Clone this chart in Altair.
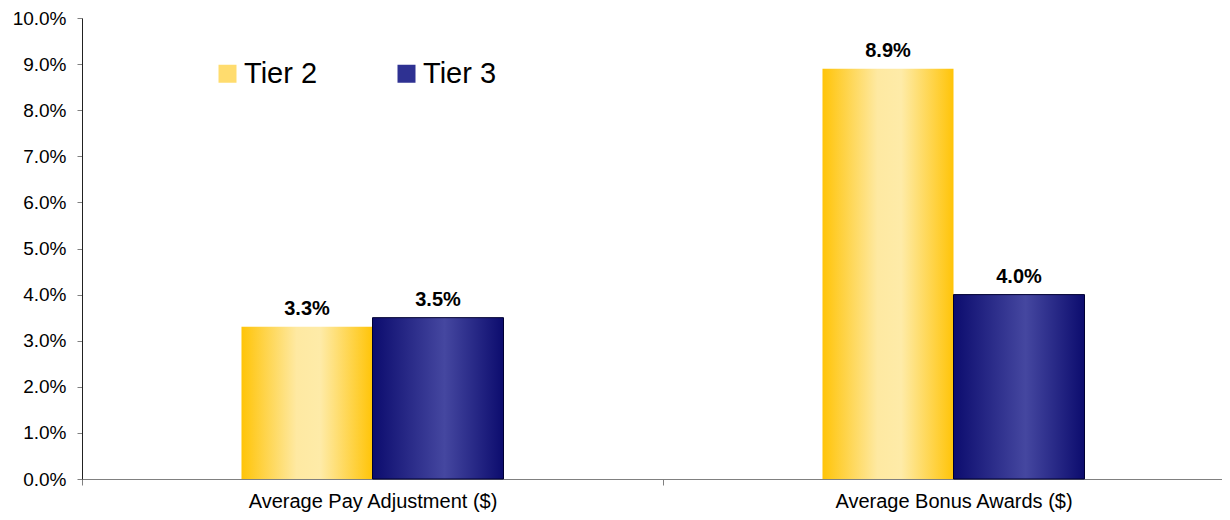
import altair as alt
import pandas as pd

categories = ["Average Pay Adjustment ($)", "Average Bonus Awards ($)"]
tiers = ["Tier 2", "Tier 3"]
tier2_values = [0.033, 0.089]
tier3_values = [0.035, 0.040]
y_ticks = [i / 100 for i in range(0, 11)]

rows = []
for c, v2, v3 in zip(categories, tier2_values, tier3_values):
    rows.append({"category": c, "tier": "Tier 2", "value": v2})
    rows.append({"category": c, "tier": "Tier 3", "value": v3})
df = pd.DataFrame(rows)

FONT = "Liberation Sans"

gold = alt.LinearGradient(
    gradient="linear", x1=0, x2=1, y1=0, y2=0,
    stops=[
        alt.GradientStop(color="#FFC408", offset=0),
        alt.GradientStop(color="#FEE9A2", offset=0.42),
        alt.GradientStop(color="#FEEBA8", offset=0.6),
        alt.GradientStop(color="#FFC408", offset=1),
    ],
)
navy = alt.LinearGradient(
    gradient="linear", x1=0, x2=1, y1=0, y2=0,
    stops=[
        alt.GradientStop(color="#0C0C6E", offset=0),
        alt.GradientStop(color="#4547A0", offset=0.55),
        alt.GradientStop(color="#0C0C6E", offset=1),
    ],
)

x_enc = alt.X(
    "category:N",
    sort=categories,
    scale=alt.Scale(range=[0, 1162], paddingInner=0.549, paddingOuter=0.2745),
    axis=alt.Axis(
        title=None, labelAngle=0, labelFontSize=20, labelFont=FONT,
        labelColor="#000", tickSize=6, tickColor="#808080",
        tickOffset=-290.5, labelOffset=290.5, labelLimit=500,
        domainColor="#808080", labelPadding=6,
    ),
)
xo_enc = alt.XOffset(
    "tier:N", sort=tiers,
    scale=alt.Scale(paddingInner=0, paddingOuter=0),
)
y_enc = alt.Y(
    "value:Q",
    scale=alt.Scale(domain=[0, 0.10], nice=False),
    axis=alt.Axis(
        title=None, format=".1%", values=y_ticks, grid=False,
        labelFontSize=19, labelFont=FONT, labelColor="#000",
        tickSize=5, tickColor="#808080", domainColor="#222222", labelPadding=11,
    ),
)

base = alt.Chart(df).encode(x=x_enc, xOffset=xo_enc, y=y_enc)

bars2 = base.transform_filter(alt.datum.tier == "Tier 2").mark_bar(color=gold, strokeWidth=0)
bars3 = base.transform_filter(alt.datum.tier == "Tier 3").mark_bar(
    color=navy, stroke="#000033", strokeWidth=1
)

legend_layer = base.mark_square(opacity=0, size=1).encode(
    color=alt.Color(
        "tier:N", sort=tiers,
        scale=alt.Scale(domain=tiers, range=["#FFDC6E", "#2E3192"]),
        legend=alt.Legend(
            title=None, orient="none", legendX=131, legendY=41,
            direction="horizontal", symbolType="square", symbolSize=324,
            symbolOpacity=1, symbolStrokeWidth=0, labelFontSize=29,
            labelFont=FONT, labelColor="#000", columnPadding=74,
            labelOffset=2, labelLimit=300,
        ),
    )
)

labels = base.mark_text(
    baseline="alphabetic", dy=-12, fontSize=20, fontWeight="bold", font=FONT, color="#000"
).encode(text=alt.Text("value:Q", format=".1%"))

chart = (
    alt.layer(bars2, bars3, legend_layer, labels)
    .properties(
        width=1140, height=461,
        autosize=alt.AutoSizeParams(type="none"),
        padding={"left": 74, "top": 10, "right": 0, "bottom": 34},
    )
    .configure_view(stroke=None)
)

chart.save("out.html", embed_options={"renderer": "svg", "actions": False})
